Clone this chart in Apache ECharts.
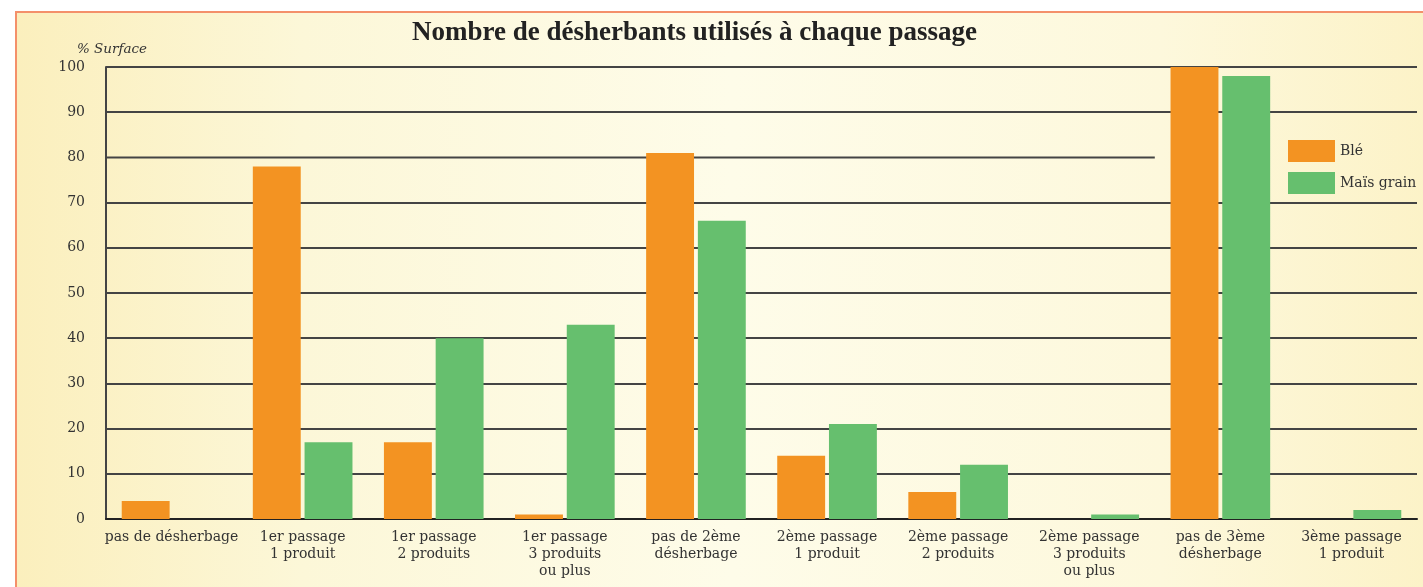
<!DOCTYPE html>
<html>
<head>
<meta charset="utf-8">
<script src="https://cdn.jsdelivr.net/npm/echarts@6/dist/echarts.min.js"></script>
<style>
  html, body {
    margin: 0;
    padding: 0;
    background: #ffffff;
    overflow: hidden;
  }
  .frame {
    position: absolute;
    left: 15px;
    top: 11px;
    width: 1430px;
    height: 600px;
    border: 2px solid #f4906a;
    background: linear-gradient(to right, #fbefbd 0%, #fcf7d8 20%, #fefce9 50%, #fdf8dc 80%, #fcf2c6 100%);
  }
  .chart {
    position: absolute;
    left: 0;
    top: 0;
    width: 1423px;
    height: 587px;
  }
</style>
</head>
<body>
<div class="frame"></div>
<div class="chart"></div>
<script>
  const categories = [
    'pas de désherbage',
    '1er passage\n1 produit',
    '1er passage\n2 produits',
    '1er passage\n3 produits\nou plus',
    'pas de 2ème\ndésherbage',
    '2ème passage\n1 produit',
    '2ème passage\n2 produits',
    '2ème passage\n3 produits\nou plus',
    'pas de 3ème\ndésherbage',
    '3ème passage\n1 produit'
  ]
  const ble = [4, 78, 17, 1, 81, 14, 6, 0, 100, 0]
  const mais = [0, 17, 40, 43, 66, 21, 12, 1, 98, 2]
  // the 80 % gridline stops before the legend
  const shortGridline = [[0, 80], [8, 80]]

  const serif = '"DejaVu Serif", serif'
  const textColor = '#333333'
  const lineColor = '#444444'

  // one colour per split line (0, 10, ... 100); the 80 one is drawn separately
  const splitColors = []
  for (let v = 0; v <= 100; v += 10) {
    splitColors.push(v === 80 ? 'rgba(0,0,0,0)' : lineColor)
  }

  const myChart = echarts.init(document.querySelector('.chart'))

  const option = {
    color: ['#f39322', '#66bf6e'],
    backgroundColor: 'transparent',
    title: [
      {
        text: 'Nombre de désherbants utilisés à chaque passage',
        left: 407,
        top: 15,
        textStyle: {
          fontFamily: '"Liberation Serif", serif',
          fontWeight: 'bold',
          fontSize: 27,
          color: '#222222'
        }
      },
      {
        text: '% Surface',
        left: 72,
        top: 37,
        textStyle: {
          fontFamily: serif,
          fontStyle: 'italic',
          fontWeight: 'normal',
          fontSize: 13.5,
          color: textColor
        }
      }
    ],
    legend: {
      data: ['Blé', 'Maïs grain'],
      orient: 'vertical',
      left: 1283,
      top: 135,
      itemWidth: 47,
      itemHeight: 22,
      itemGap: 10,
      icon: 'rect',
      textStyle: {
        fontFamily: serif,
        fontSize: 14,
        color: textColor
      }
    },
    grid: {
      left: 106,
      right: 6,
      top: 67,
      bottom: 68
    },
    xAxis: [
      {
        type: 'category',
        data: categories,
        axisLine: {
          lineStyle: {color: '#222222', width: 2}
        },
        axisTick: {
          inside: true,
          length: 8,
          lineStyle: {color: '#222222', width: 2}
        },
        axisLabel: {
          interval: 0,
          margin: 10,
          fontFamily: serif,
          fontSize: 14,
          lineHeight: 17,
          color: textColor
        }
      },
      {
        type: 'value',
        min: 0,
        max: 10,
        show: false
      }
    ],
    yAxis: {
      type: 'value',
      min: 0,
      max: 100,
      interval: 10,
      axisLine: {
        show: true,
        lineStyle: {color: lineColor, width: 2}
      },
      axisTick: {show: false},
      axisLabel: {
        margin: 21,
        fontFamily: serif,
        fontSize: 14,
        color: textColor
      },
      splitLine: {
        lineStyle: {color: splitColors, width: 2}
      }
    },
    series: [
      {
        name: 'Blé',
        type: 'bar',
        data: ble,
        barGap: '8%',
        barCategoryGap: '24%',
        z: 3
      },
      {
        name: 'Maïs grain',
        type: 'bar',
        data: mais,
        z: 3
      },
      {
        type: 'line',
        xAxisIndex: 1,
        data: shortGridline,
        symbol: 'none',
        silent: true,
        z: 1,
        lineStyle: {color: lineColor, width: 2}
      }
    ]
  }

  myChart.setOption(option)
</script>
</body>
</html>
